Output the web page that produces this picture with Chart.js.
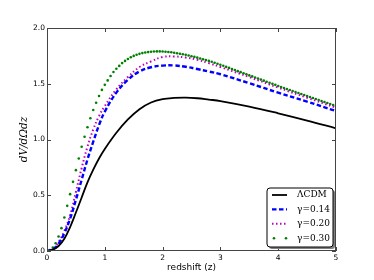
<!DOCTYPE html>
<html>
<head>
<meta charset="utf-8">
<script src="https://cdn.jsdelivr.net/npm/chart.js@4.4.0/dist/chart.umd.min.js"></script>
<style>
  body { margin: 0; background: #fff; }
  #wrap { width: 374px; height: 280px; }
</style>
</head>
<body>
<div id="wrap"><canvas id="chart" width="374" height="280"></canvas></div>
<script>
'use strict';

// redshift grid for the line curves
var zLine = [0, 0.1, 0.2, 0.3, 0.4, 0.5, 0.6, 0.7, 0.8, 0.9, 1.0, 1.2, 1.4, 1.6, 1.8,
             2.0, 2.2, 2.4, 2.6, 2.8, 3.0, 3.5, 4.0, 4.5, 5.0];

var lcdm = [0, 0.012, 0.045, 0.11, 0.215, 0.345, 0.48, 0.615, 0.73, 0.83, 0.915, 1.06, 1.18, 1.272, 1.332,
            1.362, 1.373, 1.376, 1.37, 1.358, 1.345, 1.295, 1.235, 1.17, 1.10];

var gamma014 = [0, 0.015, 0.065, 0.16, 0.29, 0.46, 0.64, 0.82, 0.98, 1.13, 1.25, 1.42, 1.535, 1.61, 1.648,
                1.663, 1.664, 1.652, 1.632, 1.61, 1.585, 1.505, 1.42, 1.34, 1.255];

var gamma020 = [0, 0.015, 0.08, 0.18, 0.32, 0.53, 0.745, 0.935, 1.09, 1.21, 1.30, 1.45, 1.56, 1.65, 1.70,
                1.74, 1.745, 1.735, 1.715, 1.685, 1.65, 1.56, 1.465, 1.375, 1.285];

// gamma = 0.30 is plotted with point markers every 0.05 in z
var zDots = [0.00, 0.05, 0.10, 0.15, 0.20, 0.25, 0.30, 0.35, 0.40, 0.45,
             0.50, 0.55, 0.60, 0.65, 0.70, 0.75, 0.80, 0.85, 0.90, 0.95,
             1.00, 1.05, 1.10, 1.15, 1.20, 1.25, 1.30, 1.35, 1.40, 1.45,
             1.50, 1.55, 1.60, 1.65, 1.70, 1.75, 1.80, 1.85, 1.90, 1.95,
             2.00, 2.05, 2.10, 2.15, 2.20, 2.25, 2.30, 2.35, 2.40, 2.45,
             2.50, 2.55, 2.60, 2.65, 2.70, 2.75, 2.80, 2.85, 2.90, 2.95,
             3.00, 3.05, 3.10, 3.15, 3.20, 3.25, 3.30, 3.35, 3.40, 3.45,
             3.50, 3.55, 3.60, 3.65, 3.70, 3.75, 3.80, 3.85, 3.90, 3.95,
             4.00, 4.05, 4.10, 4.15, 4.20, 4.25, 4.30, 4.35, 4.40, 4.45,
             4.50, 4.55, 4.60, 4.65, 4.70, 4.75, 4.80, 4.85, 4.90, 4.95, 5.00];

var gamma030 = [0, 0.008, 0.03, 0.07, 0.13, 0.205, 0.30, 0.405, 0.51, 0.62,
                0.725, 0.83, 0.935, 1.025, 1.11, 1.19, 1.265, 1.33, 1.39, 1.445,
                1.49, 1.53, 1.57, 1.605, 1.635, 1.66, 1.685, 1.705, 1.722, 1.738,
                1.75, 1.76, 1.768, 1.775, 1.78, 1.784, 1.787, 1.789, 1.79, 1.79,
                1.789, 1.787, 1.785, 1.782, 1.778, 1.774, 1.769, 1.764, 1.759, 1.753,
                1.747, 1.741, 1.734, 1.727, 1.72, 1.712, 1.705, 1.697, 1.689, 1.68,
                1.67, 1.661, 1.651, 1.642, 1.632, 1.623, 1.613, 1.604, 1.594, 1.585,
                1.575, 1.566, 1.556, 1.547, 1.537, 1.528, 1.518, 1.509, 1.499, 1.49,
                1.48, 1.471, 1.462, 1.453, 1.444, 1.435, 1.426, 1.417, 1.408, 1.399,
                1.39, 1.381, 1.372, 1.363, 1.354, 1.345, 1.336, 1.327, 1.318, 1.309, 1.30];

var labels = ['\u039BCDM', '\u03B3=0.14', '\u03B3=0.20', '\u03B3=0.30'];

function pairs(xs, ys) {
    return xs.map(function (x, i) { return {x: x, y: ys[i]}; });
}

// frame + inward ticks like matplotlib
var framePlugin = {
    id: 'frame',
    afterDraw: function (chart) {
        var ctx = chart.ctx, a = chart.chartArea;
        var xs = chart.scales.x, ys = chart.scales.y;
        ctx.save();
        ctx.strokeStyle = '#444';
        ctx.lineWidth = 1;
        ctx.strokeRect(a.left + 0.5, a.top + 0.5, a.right - a.left - 1, a.bottom - a.top - 1);
        ctx.beginPath();
        xs.ticks.forEach(function (t) {
            var px = Math.round(xs.getPixelForValue(t.value)) + 0.5;
            ctx.moveTo(px, a.bottom); ctx.lineTo(px, a.bottom - 4);
            ctx.moveTo(px, a.top); ctx.lineTo(px, a.top + 4);
        });
        ys.ticks.forEach(function (t) {
            var py = Math.round(ys.getPixelForValue(t.value)) + 0.5;
            ctx.moveTo(a.left, py); ctx.lineTo(a.left + 4, py);
            ctx.moveTo(a.right, py); ctx.lineTo(a.right - 4, py);
        });
        ctx.stroke();
        ctx.restore();
    }
};

// legend box in the lower right corner
var legendPlugin = {
    id: 'boxLegend',
    afterDraw: function (chart) {
        var ctx = chart.ctx;
        var bx = 267, by = 188, bw = 66, bh = 59, r = 3;
        ctx.save();
        function box(x, y) {
            ctx.beginPath();
            ctx.roundRect(x, y, bw, bh, r);
        }
        box(bx + 2, by + 2);
        ctx.fillStyle = '#808080';
        ctx.fill();
        box(bx, by);
        ctx.fillStyle = '#fff';
        ctx.fill();
        ctx.strokeStyle = '#000';
        ctx.lineWidth = 1;
        ctx.stroke();

        chart.data.datasets.forEach(function (ds, i) {
            var y = by + 7 + i * 14.4;
            var x0 = bx + 5, x1 = bx + 20;
            if (ds.showLine === false) {
                ctx.fillStyle = ds.pointBackgroundColor;
                [x0 + 2, x1 - 1].forEach(function (px) {
                    ctx.beginPath();
                    ctx.arc(px, y, ds.pointRadius, 0, Math.PI * 2);
                    ctx.fill();
                });
            } else {
                ctx.strokeStyle = ds.borderColor;
                ctx.lineWidth = ds.borderWidth;
                ctx.setLineDash(ds.borderDash || []);
                ctx.beginPath();
                ctx.moveTo(x0, y); ctx.lineTo(x1, y);
                ctx.stroke();
                ctx.setLineDash([]);
            }
            ctx.fillStyle = '#000';
            ctx.font = '9px "DejaVu Serif"';
            ctx.textBaseline = 'middle';
            ctx.textAlign = 'left';
            ctx.fillText(ds.label, bx + 30, y);
        });
        ctx.restore();
    }
};

var ctx = document.getElementById('chart').getContext('2d');

new Chart(ctx, {
    type: 'line',
    data: {
        datasets: [
            {label: labels[0], data: pairs(zLine, lcdm),
             borderColor: '#000000', borderWidth: 1.8, pointRadius: 0, tension: 0.4},
            {label: labels[1], data: pairs(zLine, gamma014),
             borderColor: '#0000ff', borderWidth: 2.4, borderDash: [4.5, 2.5], pointRadius: 0, tension: 0.4},
            {label: labels[2], data: pairs(zLine, gamma020),
             borderColor: '#bf00bf', borderWidth: 2, borderDash: [1.5, 2.5], pointRadius: 0, tension: 0.4},
            {label: labels[3], data: pairs(zDots, gamma030),
             showLine: false, pointRadius: 1.3, pointBorderWidth: 0,
             pointBackgroundColor: '#008000', borderColor: '#008000'}
        ]
    },
    options: {
        responsive: false,
        animation: false,
        devicePixelRatio: 1,
        layout: {padding: {top: 28, right: 38, left: 0, bottom: 0}},
        plugins: {
            legend: {display: false},
            tooltip: {enabled: false}
        },
        scales: {
            x: {
                type: 'linear', min: 0, max: 5,
                grid: {display: false, drawTicks: false},
                border: {display: false},
                ticks: {stepSize: 1, padding: 3, color: '#000',
                        font: {family: 'DejaVu Sans', size: 7.5}},
                title: {display: true, text: 'redshift (z)', color: '#000',
                        font: {family: 'DejaVu Sans', size: 9},
                        padding: {top: 0, bottom: 6.5}},
                afterFit: function (s) { s.height = 29; }
            },
            y: {
                min: 0, max: 2,
                grid: {display: false, drawTicks: false},
                border: {display: false},
                ticks: {stepSize: 0.5, padding: 2, color: '#000',
                        font: {family: 'DejaVu Sans', size: 7.5},
                        callback: function (v) { return v.toFixed(1); }},
                title: {display: true, text: 'dV/d\u03A9dz', color: '#000',
                        font: {family: 'DejaVu Serif', style: 'italic', size: 10.5},
                        padding: {top: 17.5, bottom: 0}},
                afterFit: function (s) { s.width = 47; }
            }
        }
    },
    plugins: [framePlugin, legendPlugin]
});
</script>
</body>
</html>
